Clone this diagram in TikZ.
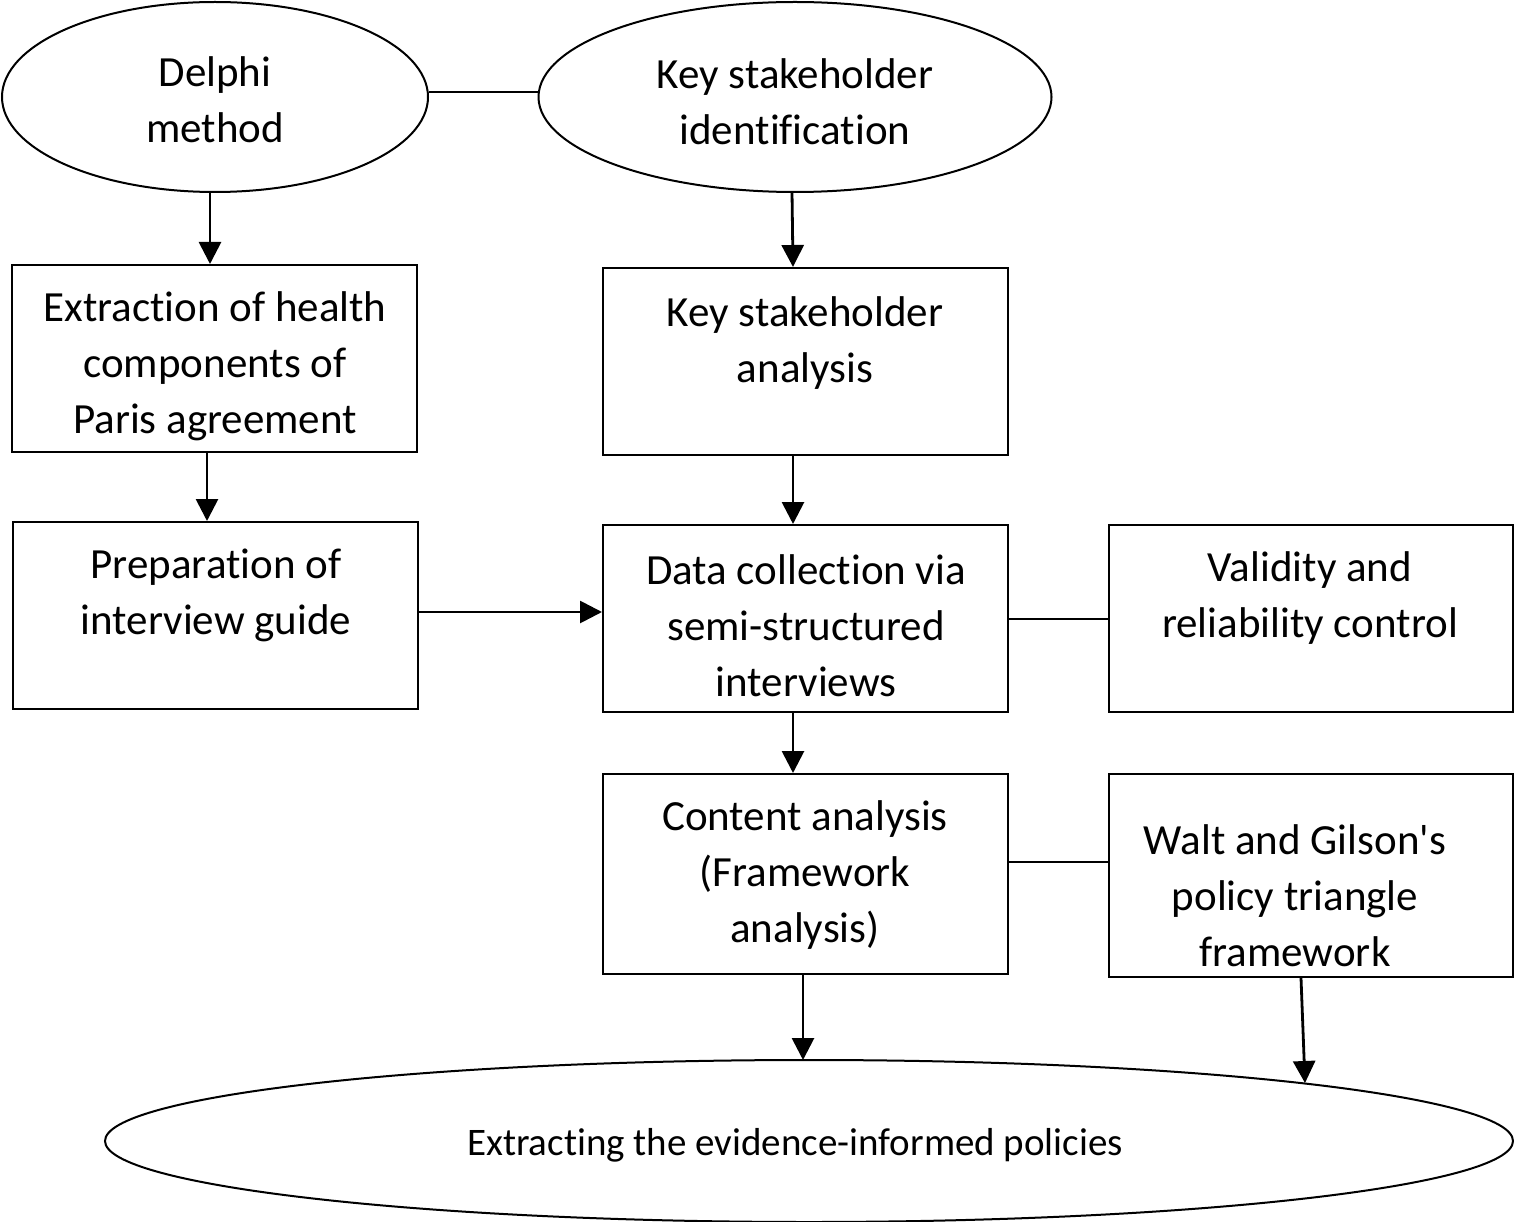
\documentclass[tikz,border=0pt]{standalone}
\usepackage{fontspec}
\setmainfont{Carlito}[Ligatures={NoCommon}]
\usetikzlibrary{shapes.geometric,arrows.meta}
\begin{document}
\begin{tikzpicture}[x=1pt,y=-1pt,
  box/.style={draw,line width=2pt,rectangle,inner sep=0pt},
  oval/.style={draw,line width=2pt,ellipse,inner sep=0pt},
  txt/.style={align=center,font=\fontsize{43}{56}\selectfont,inner sep=0pt},
  arr/.style={line width=2.8pt,-{Triangle[length=22pt,width=22pt]}},
  link/.style={line width=2pt}]
\useasboundingbox (0,0) rectangle (1514,1222);
% ellipses
\node[oval,minimum width=426pt,minimum height=190pt] (delphi) at (215,97) {};
\node[oval,minimum width=513pt,minimum height=190pt] (ksi) at (795,97) {};
\node[oval,minimum width=1408pt,minimum height=162pt] (final) at (809,1141) {};
% boxes
\node[box,minimum width=405pt,minimum height=187pt] (extr) at (214.5,358.5) {};
\node[box,minimum width=405pt,minimum height=187pt] (ksa) at (805.5,361.5) {};
\node[box,minimum width=405pt,minimum height=187pt] (prep) at (215.5,615.5) {};
\node[box,minimum width=405pt,minimum height=187pt] (dc) at (805.5,618.5) {};
\node[box,minimum width=404pt,minimum height=187pt] (valid) at (1311,618.5) {};
\node[box,minimum width=405pt,minimum height=200pt] (ca) at (805.5,874) {};
\node[box,minimum width=404pt,minimum height=203pt] (walt) at (1311,875.5) {};
% texts
\node[txt] (tdelphi) at (215,100) {Delphi\\method};
\node[txt] (tksi) at (795,102) {Key stakeholder\\identification};
\node[txt] (textr) at (215,366) {Extraction of health\\components of\\Paris agreement};
\node[txt] (tksa) at (805,343) {Key stakeholder\\analysis};
\node[txt] (tprep) at (216,595) {Preparation of\\interview guide};
\node[txt] (tdc) at (806,626) {Data collection via\\semi-structured\\interviews};
\node[txt] (tvalid) at (1310,598) {Validity and\\reliability control};
\node[txt] (tca) at (805,875) {Content analysis\\(Framework\\analysis)};
\node[txt] (twalt) at (1295,896) {Walt and Gilson\textquotesingle s\\policy triangle\\framework};
\node[txt,font=\fontsize{39}{46}\selectfont] (tfinal) at (795,1145) {Extracting the evidence-informed policies};
% connectors
\coordinate (wend) at (1305,1083);
\draw[link] (delphi.east |- 0,92) -- (ksi.west |- 0,92);
\draw[link] (dc.east) -- (valid.west);
\draw[link] (ca.east |- 0,862) -- (walt.west |- 0,862);
\draw[arr] (delphi.south -| 210,0) -- (extr.north -| 210,0);
\draw[arr] (792,192) -- (ksa.north -| 793,0);
\draw[arr] (extr.south -| 207,0) -- (prep.north -| 207,0);
\draw[arr] (ksa.south -| 793,0) -- (dc.north -| 793,0);
\draw[arr] (prep.east |- 0,612) -- (dc.west |- 0,612);
\draw[arr] (dc.south -| 793,0) -- (ca.north -| 793,0);
\draw[arr] (ca.south -| 803,0) -- (803,1060);
\draw[arr] (walt.south -| 1301,0) -- (wend);
\end{tikzpicture}
\end{document}
